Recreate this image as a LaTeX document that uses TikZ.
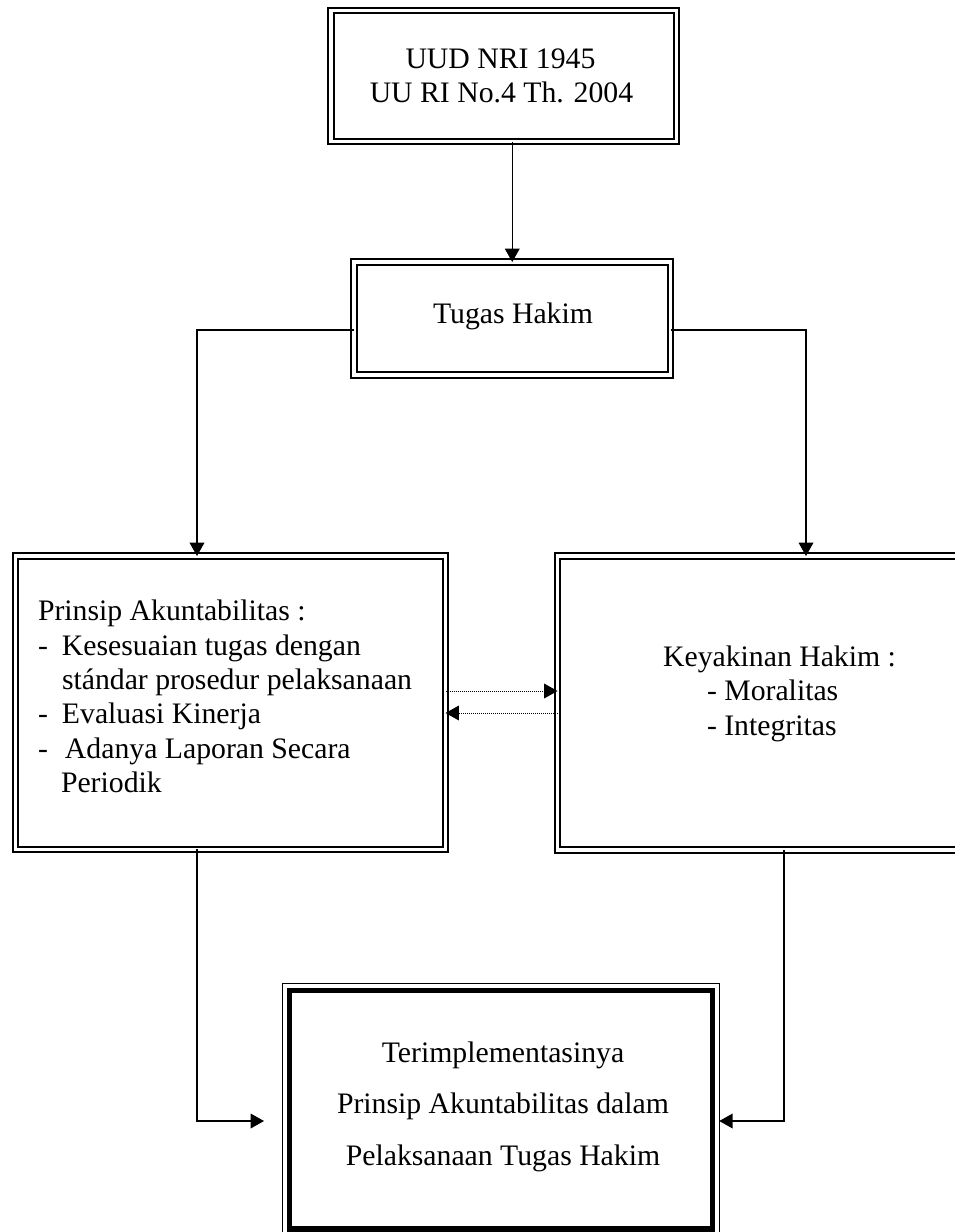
\documentclass[tikz,border=0pt]{standalone}
\usepackage{fontspec}
\setmainfont{Liberation Serif}
\usetikzlibrary{arrows.meta}
\begin{document}
\begin{tikzpicture}[x=0.75pt,y=-0.75pt,
  box/.style={draw, double, line width=1.5pt, double distance=2.6pt, outer sep=0pt, inner sep=0pt, rectangle},
  finbox/.style={draw, line width=4.2pt, outer sep=0pt, inner sep=0pt, rectangle},
  thinbox/.style={draw, line width=1pt, outer sep=0pt, inner sep=0pt, rectangle},
  txt/.style={inner sep=0pt, outer sep=0pt, font=\fontsize{22.3}{26}\selectfont},
  conn/.style={line width=1pt, -{Triangle[length=10pt,width=11pt]}},
  dconn/.style={line width=0.75pt, dash pattern=on 0.75pt off 0.75pt, -{Triangle[length=10pt,width=11pt]}}
]
\useasboundingbox (0,0) rectangle (954,1232);
% boxes
\node[box, minimum width=259.1pt, minimum height=98.25pt] (top) at (503.75,76) {};
\node[box, minimum width=237.4pt, minimum height=84.75pt] (tugas) at (512.25,318.5) {};
\node[box, minimum width=322.5pt, minimum height=220.1pt] (left) at (230.5,702.75) {};
\node[box, minimum width=301.5pt, minimum height=220.5pt] (right) at (758.5,703) {};
\node[thinbox, minimum width=327.4pt, minimum height=189.4pt] (fout) at (501,1109.75) {};
\node[finbox, minimum width=317.25pt, minimum height=178.9pt] (fin) at (501,1109.75) {};
% texts
\node[txt, anchor=base] (t1) at (500.5,68) {UUD NRI 1945};
\node[txt, anchor=base] (t2) at (501.5,102) {UU RI No.4 Th. 2004};
\node[txt, anchor=base] (t3) at (513,323) {Tugas Hakim};
\node[txt, anchor=base west] (l1) at (38,620) {Prinsip Akuntabilitas :};
\node[txt, anchor=base west] (l2) at (38,655) {\makebox[18pt][l]{-}Kesesuaian tugas dengan};
\node[txt, anchor=base west] (l3) at (62,689) {stándar prosedur pelaksanaan};
\node[txt, anchor=base west] (l4) at (38,723) {\makebox[18pt][l]{-}Evaluasi Kinerja};
\node[txt, anchor=base west] (l5) at (38,758) {\makebox[20.25pt][l]{-}Adanya Laporan Secara};
\node[txt, anchor=base west] (l6) at (61,792) {Periodik};
\node[txt, anchor=base] (r1) at (779.5,666) {Keyakinan Hakim :};
\node[txt, anchor=base west] (r2) at (707,700) {- Moralitas};
\node[txt, anchor=base west] (r3) at (707,735) {- Integritas};
\node[txt, anchor=base] (b1) at (503,1062) {Terimplementasinya};
\node[txt, anchor=base] (b2) at (503,1113) {Prinsip Akuntabilitas dalam};
\node[txt, anchor=base] (b3) at (503,1165) {Pelaksanaan Tugas Hakim};
% coordinates
\coordinate (jl) at (197,330);
\coordinate (jr) at (806,330);
\coordinate (d1) at (0,691);
\coordinate (d2) at (0,713);
\coordinate (bl) at (197,1121);
\coordinate (blt) at (264,1121);
\coordinate (br) at (784,1121);
% connectors
\draw[conn] (top.south -| tugas.north) -- (tugas.north);
\draw[conn] (tugas.west |- jl) -- (jl) -- (jl |- left.north);
\draw[conn] (tugas.east |- jr) -- (jr) -- (jr |- right.north);
\draw[dconn] (left.east |- d1) -- (right.west |- d1);
\draw[dconn] (right.west |- d2) -- (left.east |- d2);
\draw[conn] (bl |- left.south) -- (bl) -- (blt);
\draw[conn] (br |- right.south) -- (br) -- (fout.east |- br);
\end{tikzpicture}
\end{document}
